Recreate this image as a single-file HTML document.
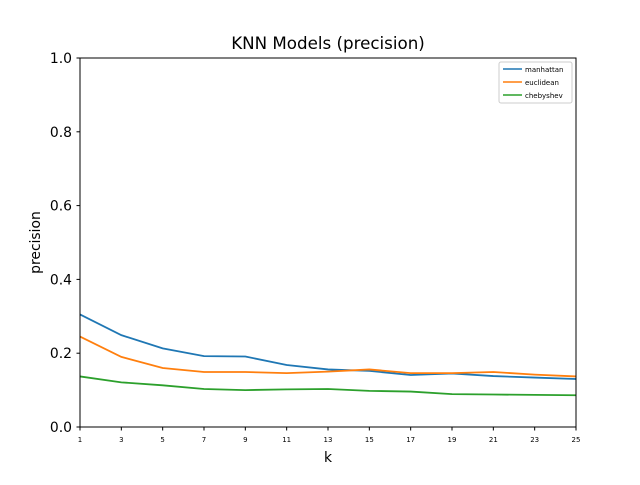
<!DOCTYPE html>
<html><head><meta charset="utf-8"><style>
body{margin:0;background:#fff;}
svg{font-family:"DejaVu Sans","Liberation Sans",sans-serif;}
</style></head><body>
<svg id="chart" width="640" height="480">
<rect width="640" height="480" fill="#fff"/>
<text x="328" y="49" font-size="16.7" text-anchor="middle">KNN Models (precision)</text>
<g id="plot"></g>
<rect x="80" y="58" width="496" height="369" fill="none" stroke="#000" stroke-width="1"/>
<text x="328" y="462" font-size="13.9" text-anchor="middle">k</text>
<text transform="translate(40,242.5) rotate(-90)" font-size="13.9" text-anchor="middle">precision</text>
<g>
<rect x="499" y="62" width="73" height="41" fill="#fff" stroke="#ccc" rx="2"/>
<line x1="503" x2="522" y1="69" y2="69" stroke="#1f77b4" stroke-width="1.5"/>
<text x="525" y="72" font-size="7">manhattan</text>
<line x1="503" x2="522" y1="82" y2="82" stroke="#ff7f0e" stroke-width="1.5"/>
<text x="525" y="85" font-size="7">euclidean</text>
<line x1="503" x2="522" y1="95" y2="95" stroke="#2ca02c" stroke-width="1.5"/>
<text x="525" y="98" font-size="7">chebyshev</text>
</g>
</svg>
<script>
const ks=[1,3,5,7,9,11,13,15,17,19,21,23,25];
const manhattan=[0.305,0.249,0.213,0.192,0.191,0.168,0.156,0.152,0.141,0.145,0.138,0.134,0.130];
const euclidean=[0.245,0.190,0.160,0.149,0.149,0.146,0.150,0.156,0.146,0.146,0.149,0.142,0.137];
const chebyshev=[0.137,0.121,0.113,0.103,0.100,0.102,0.103,0.098,0.096,0.089,0.088,0.087,0.086];
const yTicks=[0,0.2,0.4,0.6,0.8,1.0];
const yTickLabels=["0.0","0.2","0.4","0.6","0.8","1.0"];
const NS="http://www.w3.org/2000/svg";
const X=k=>80+(k-1)*(496/24);
const Y=v=>427-v*369;
const g=document.getElementById('plot');
function mk(t,a){const e=document.createElementNS(NS,t);for(const k in a)e.setAttribute(k,a[k]);g.appendChild(e);return e;}
ks.forEach(k=>{
  const l=mk('line',{x1:X(k),x2:X(k),y1:427,y2:430.5,stroke:'#000'});
  
  
  const t=mk('text',{x:X(k),y:442,'font-size':7,'text-anchor':'middle'});
  t.textContent=k;
  
  
});
yTicks.forEach((v,i)=>{
  const l=mk('line',{x1:76.5,x2:80,y1:Y(v),y2:Y(v),stroke:'#000'});
  
  
  const t=mk('text',{x:72,y:Y(v)+5,'font-size':13.9,'text-anchor':'end'});
  t.textContent=yTickLabels[i];
  
  
});
[[manhattan,'#1f77b4','manhattan'],[euclidean,'#ff7f0e','euclidean'],[chebyshev,'#2ca02c','chebyshev']].forEach(([d,c,n])=>{
  const p=mk('polyline',{points:d.map((v,i)=>X(ks[i])+','+Y(v)).join(' '),fill:'none',stroke:c,'stroke-width':1.8});
  
  
});
</script>
</body></html>
